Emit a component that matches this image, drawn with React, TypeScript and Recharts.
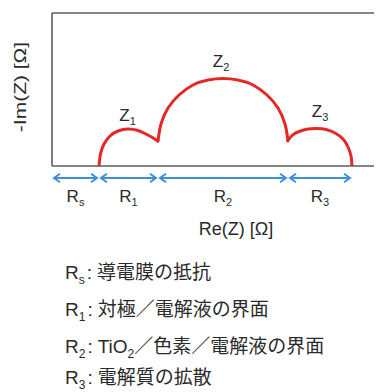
import React from 'react';
import { ComposedChart, Line, XAxis, YAxis, ReferenceLine, ReferenceDot } from 'recharts';

// Nyquist plot, arbitrary units: Re(Z) along x, -Im(Z) along y
const z1Points = [
  { re: 47, im: 0 }, { re: 48.5, im: 12 }, { re: 52, im: 22 }, { re: 58, im: 30 },
  { re: 66, im: 35 }, { re: 76, im: 37 }, { re: 86, im: 35.5 }, { re: 95, im: 31.5 },
  { re: 102, im: 27.5 }, { re: 107, im: 24 },
];
const z2Points = [
  { re: 106, im: 25 }, { re: 109, im: 42 }, { re: 116, im: 58 }, { re: 127, im: 71 },
  { re: 141, im: 81 }, { re: 156, im: 86 }, { re: 171, im: 87.5 }, { re: 186, im: 86 },
  { re: 201, im: 81 }, { re: 215, im: 71 }, { re: 226, im: 58 }, { re: 233, im: 42 },
  { re: 236, im: 25 },
];
const z3Points = [
  { re: 235, im: 24 }, { re: 240, im: 30.5 }, { re: 247, im: 34.5 }, { re: 256, im: 37 },
  { re: 265, im: 37.5 }, { re: 274, im: 36.5 }, { re: 283, im: 33 }, { re: 291, im: 27 },
  { re: 296, im: 19 }, { re: 299, im: 10 }, { re: 300, im: 0 },
];

const resistanceBounds = [0, 47, 106, 236, 300];
const resistanceSubs = ['s', '1', '2', '3'];
const arcLabels = [
  { sub: '1', re: 75.5, im: 45 },
  { sub: '2', re: 169, im: 99 },
  { sub: '3', re: 268, im: 49 },
];
const legendLines: { sub: string; parts: React.ReactNode }[] = [
  { sub: 's', parts: '導電膜の抵抗' },
  { sub: '1', parts: '対極／電解液の界面' },
  { sub: '2', parts: (<>TiO<span style={{ fontSize: 12, position: 'relative', top: 5 }}>2</span>／色素／電解液の界面</>) },
  { sub: '3', parts: '電解質の拡散' },
];
const legendTops = [7, 44, 81, 112];

const X_DOMAIN: [number, number] = [0, 356];
const Y_DOMAIN: [number, number] = [0, 153];
const ARROW_IM = -12;

const FONT = "'Liberation Sans', Arial, 'Noto Sans CJK JP', sans-serif";
const TEXT = '#2a2a2a';
const BORDER = '#5c5c5c';
const RED = '#e32826';
const BLUE = '#3d8fd6';

const makeArrow = (sub: string) => (p: any) => {
  const { x1, y1, x2 } = p;
  const a = x1 + 2;
  const b = x2 - 2;
  const y = y1;
  const hl = 6;
  const hw = 4.2;
  return (
    <g>
      <line x1={a} y1={y} x2={b} y2={y} stroke={BLUE} strokeWidth={2} />
      <polyline points={`${a + hl},${y - hw} ${a},${y} ${a + hl},${y + hw}`} fill="none" stroke={BLUE} strokeWidth={2} />
      <polyline points={`${b - hl},${y - hw} ${b},${y} ${b - hl},${y + hw}`} fill="none" stroke={BLUE} strokeWidth={2} />
      <text x={(x1 + x2) / 2} y={y + 24} textAnchor="middle" fontFamily={FONT} fontSize={17} fill={TEXT}>
        <tspan>R</tspan>
        <tspan fontSize={11} dy={4}>{sub}</tspan>
      </text>
    </g>
  );
};

const makeArcLabel = (sub: string) => (p: any) => (
  <text x={p.cx} y={p.cy} textAnchor="middle" fontFamily={FONT} fontSize={17} fill={TEXT}>
    <tspan>Z</tspan>
    <tspan fontSize={11} dy={4}>{sub}</tspan>
  </text>
);

const ImLabel = (props: any) => {
  const vb = props.viewBox || { x: 0, y: 5, width: 44, height: 153 };
  const cx = vb.x + 12;
  const cy = vb.y + vb.height / 2 - 2.5;
  return (
    <text
      transform={`translate(${cx},${cy}) rotate(-90) scale(1.05,0.8)`}
      textAnchor="middle"
      dominantBaseline="central"
      fontFamily={FONT}
      fontSize={20}
      fill={TEXT}
    >
      -Im(Z) [Ω]
    </text>
  );
};

const ReLabel = (props: any) => {
  const vb = props.viewBox || { x: 44, y: 158, width: 356, height: 82 };
  return (
    <text x={vb.x + 184} y={vb.y + 69} textAnchor="middle" fontFamily={FONT} fontSize={18} fill={TEXT}>
      Re(Z) [Ω]
    </text>
  );
};

export default function App() {
  return (
    <div style={{ width: 374, fontFamily: FONT, color: TEXT }}>
      <div style={{ width: 374, height: 240, overflow: 'hidden' }}>
        <ComposedChart width={400} height={240} margin={{ top: 5, right: 0, bottom: 0, left: 0 }}>
          <XAxis
            type="number"
            dataKey="re"
            domain={X_DOMAIN}
            allowDataOverflow
            tick={false}
            tickLine={false}
            axisLine={{ stroke: BORDER, strokeWidth: 1.6 }}
            height={82}
            label={{ content: ReLabel }}
          />
          <YAxis
            type="number"
            domain={Y_DOMAIN}
            allowDataOverflow
            tick={false}
            tickLine={false}
            axisLine={{ stroke: BORDER, strokeWidth: 1.6 }}
            width={44}
            label={{ content: ImLabel }}
          />
          <ReferenceLine y={Y_DOMAIN[1]} stroke={BORDER} strokeWidth={1.6} ifOverflow="visible" />
          <Line data={z1Points} dataKey="im" type="natural" stroke={RED} strokeWidth={3} dot={false} isAnimationActive={false} />
          <Line data={z2Points} dataKey="im" type="natural" stroke={RED} strokeWidth={3} dot={false} isAnimationActive={false} />
          <Line data={z3Points} dataKey="im" type="natural" stroke={RED} strokeWidth={3} dot={false} isAnimationActive={false} />
          {resistanceSubs.map((s, i) => (
            <ReferenceLine
              key={s}
              segment={[{ x: resistanceBounds[i], y: ARROW_IM }, { x: resistanceBounds[i + 1], y: ARROW_IM }]}
              ifOverflow="visible"
              stroke={BLUE}
              shape={makeArrow(s)}
            />
          ))}
          {arcLabels.map((l) => (
            <ReferenceDot key={l.sub} x={l.re} y={l.im} r={0} ifOverflow="visible" shape={makeArcLabel(l.sub)} />
          ))}
        </ComposedChart>
      </div>
      <div style={{ position: 'relative', height: 144, fontSize: 19 }}>
        {legendLines.map((l, i) => (
          <div
            key={l.sub}
            style={{ position: 'absolute', left: 57, top: legendTops[i], height: 36, lineHeight: '36px', whiteSpace: 'nowrap' }}
          >
            R<span style={{ fontSize: 12, position: 'relative', top: 5 }}>{l.sub}</span>
            <span style={{ margin: '0 5px 0 2px' }}>:</span>
            {l.parts}
          </div>
        ))}
      </div>
    </div>
  );
}
